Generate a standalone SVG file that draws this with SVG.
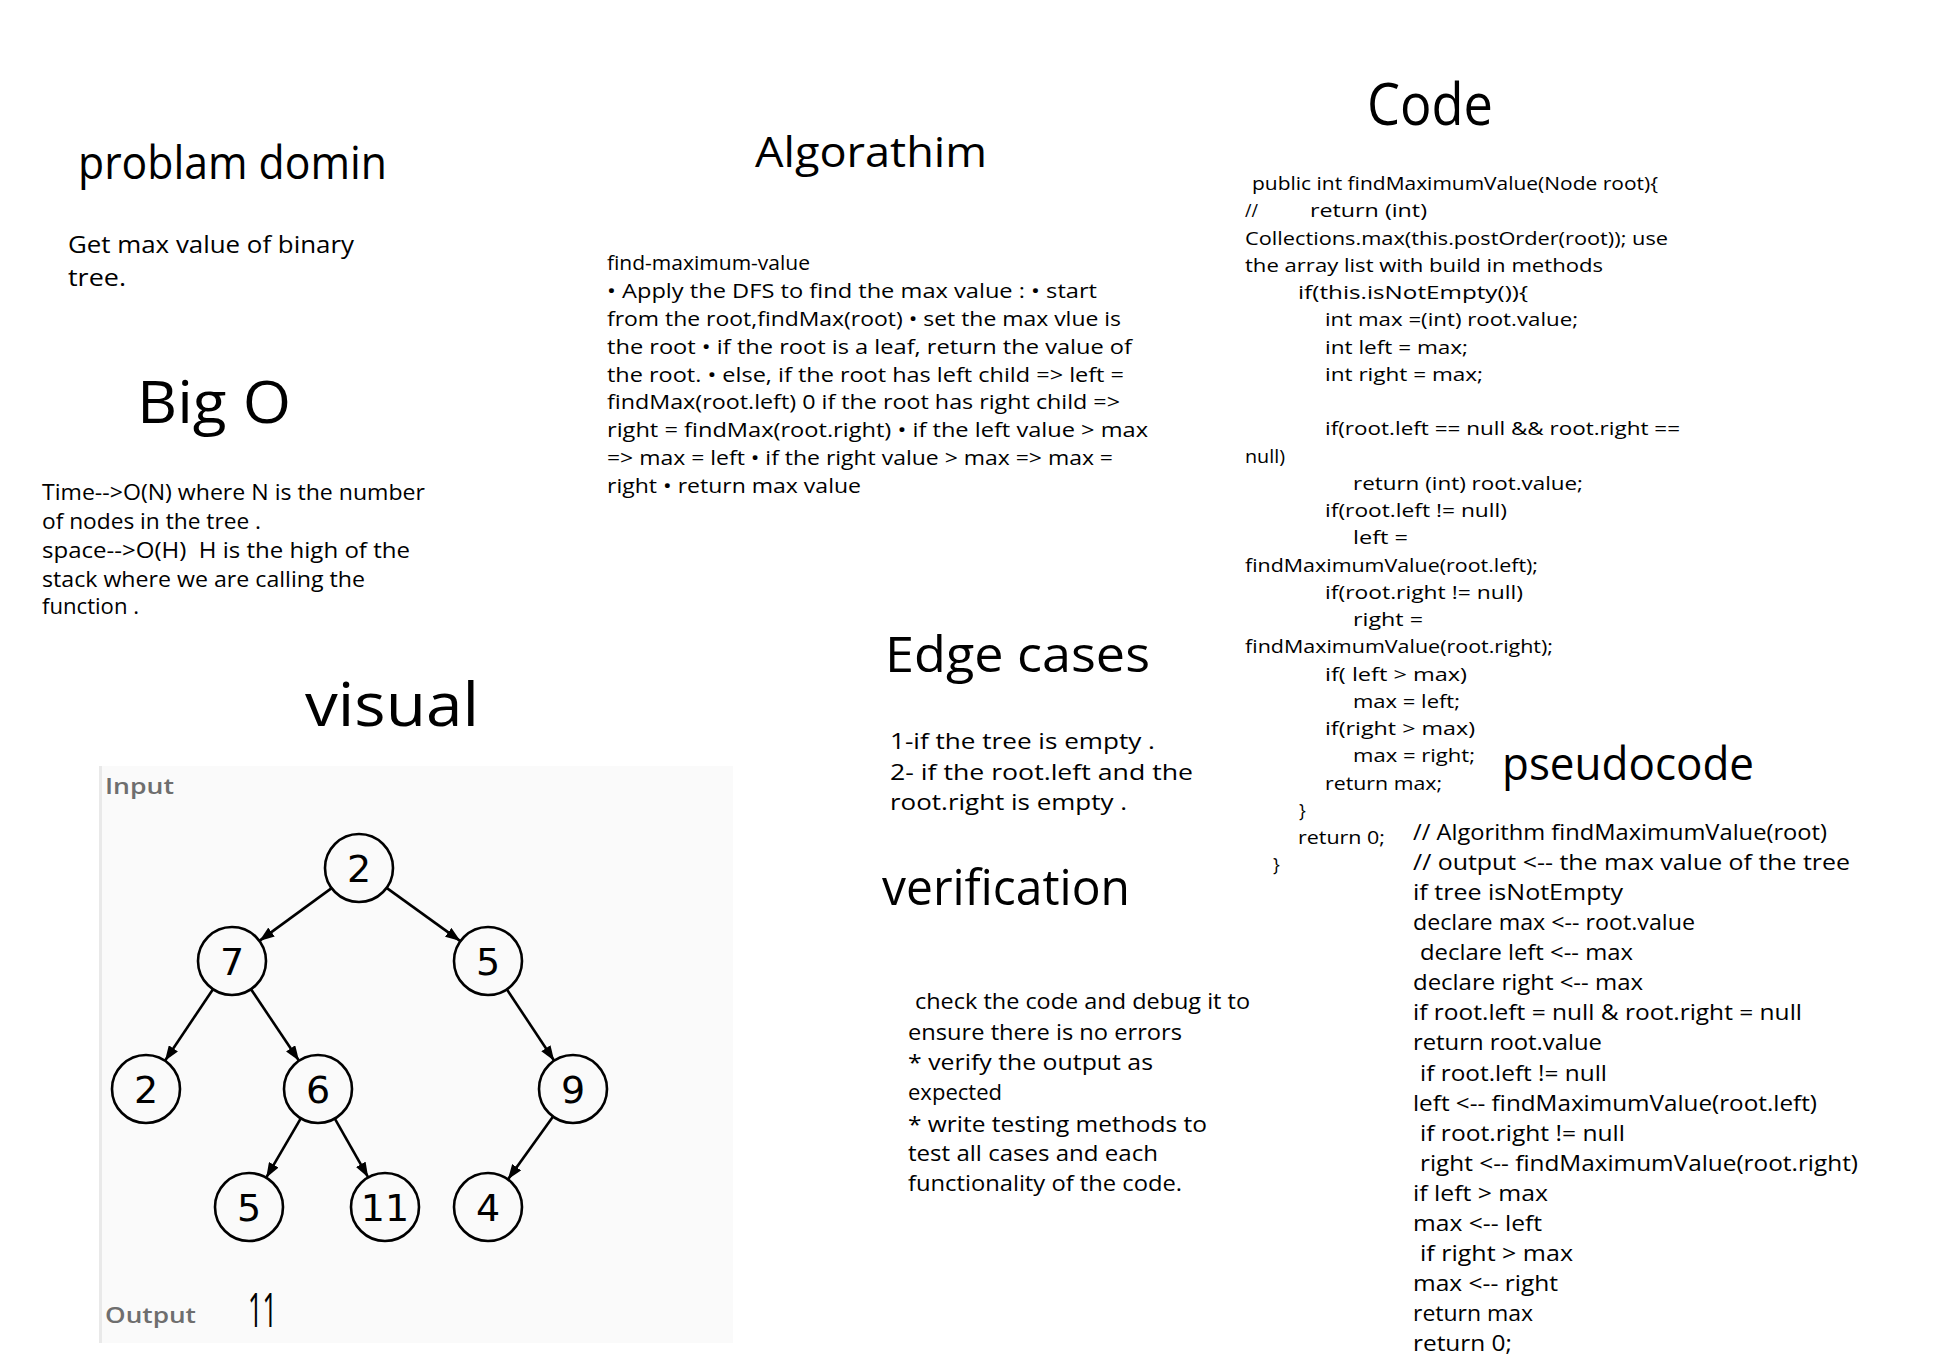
<svg xmlns="http://www.w3.org/2000/svg" width="1946" height="1371" viewBox="0 0 1946 1371">
<defs>
<style>
text{font-family:"Open Sans","Liberation Sans",sans-serif;fill:#000}
.h{font-size:46px}
.t{font-size:21px}
.c{font-size:18px}
.a{font-size:19.5px}
.p{font-size:22px}
.lbl{font-size:22px;font-weight:600;fill:#6e6e6e}
.num{font-family:"DejaVu Sans",sans-serif;font-size:38px;text-anchor:middle}
.node{fill:#fafafa;stroke:#000;stroke-width:2.6}
.edge{stroke:#000;stroke-width:2.6;fill:none;marker-end:url(#arr)}
</style>
<marker id="arr" markerUnits="userSpaceOnUse" markerWidth="15" markerHeight="11" refX="15" refY="5.5" orient="auto">
<path d="M0,0 L15,5.5 L0,11 z" fill="#000"/>
</marker>
</defs>
<rect width="1946" height="1371" fill="#fff"/>

<g id="problem-domain">
<text class="h" x="78" y="179" font-size="45" textLength="309" lengthAdjust="spacingAndGlyphs">problam domin</text>
<text x="68" y="253" font-size="24" textLength="286" lengthAdjust="spacingAndGlyphs">Get max value of binary</text>
<text x="68" y="286" font-size="24" textLength="58" lengthAdjust="spacingAndGlyphs">tree.</text>
</g>

<g id="big-o">
<text x="137" y="423" font-size="58" textLength="154" lengthAdjust="spacingAndGlyphs">Big O</text>
<text class="t" x="42" y="500" textLength="383" lengthAdjust="spacingAndGlyphs">Time--&gt;O(N) where N is the number</text>
<text class="t" x="42" y="529" textLength="219" lengthAdjust="spacingAndGlyphs">of nodes in the tree .</text>
<text class="t" x="42" y="558" textLength="368" lengthAdjust="spacingAndGlyphs" xml:space="preserve">space--&gt;O(H)  H is the high of the</text>
<text class="t" x="42" y="587" textLength="323" lengthAdjust="spacingAndGlyphs">stack where we are calling the</text>
<text class="t" x="42" y="614" textLength="97" lengthAdjust="spacingAndGlyphs">function .</text>
</g>

<g id="algorithm">
<text x="755" y="167" font-size="42" textLength="232" lengthAdjust="spacingAndGlyphs">Algorathim</text>
<text class="a" x="607" y="270" textLength="203" lengthAdjust="spacingAndGlyphs">find-maximum-value</text>
<text class="a" x="607" y="298" textLength="490" lengthAdjust="spacingAndGlyphs">• Apply the DFS to find the max value : • start</text>
<text class="a" x="607" y="326" textLength="514" lengthAdjust="spacingAndGlyphs">from the root,findMax(root) • set the max vlue is</text>
<text class="a" x="607" y="354" textLength="525" lengthAdjust="spacingAndGlyphs">the root • if the root is a leaf, return the value of</text>
<text class="a" x="607" y="382" textLength="517" lengthAdjust="spacingAndGlyphs">the root. • else, if the root has left child =&gt; left =</text>
<text class="a" x="607" y="409" textLength="513" lengthAdjust="spacingAndGlyphs">findMax(root.left) 0 if the root has right child =&gt;</text>
<text class="a" x="607" y="437" textLength="541" lengthAdjust="spacingAndGlyphs">right = findMax(root.right) • if the left value &gt; max</text>
<text class="a" x="607" y="465" textLength="506" lengthAdjust="spacingAndGlyphs">=&gt; max = left • if the right value &gt; max =&gt; max =</text>
<text class="a" x="607" y="493" textLength="254" lengthAdjust="spacingAndGlyphs">right • return max value</text>
</g>

<g id="code">
<text x="1367" y="125" font-size="58" textLength="126" lengthAdjust="spacingAndGlyphs">Code</text>
<text class="c" x="1252" y="190" textLength="406" lengthAdjust="spacingAndGlyphs">public int findMaximumValue(Node root){</text>
<text class="c" x="1245" y="217" textLength="13" lengthAdjust="spacingAndGlyphs">//</text>
<text class="c" x="1310" y="217" textLength="117" lengthAdjust="spacingAndGlyphs">return (int)</text>
<text class="c" x="1245" y="244.5" textLength="423" lengthAdjust="spacingAndGlyphs">Collections.max(this.postOrder(root)); use</text>
<text class="c" x="1245" y="271.8" textLength="358" lengthAdjust="spacingAndGlyphs">the array list with build in methods</text>
<text class="c" x="1298" y="299" textLength="230" lengthAdjust="spacingAndGlyphs">if(this.isNotEmpty()){</text>
<text class="c" x="1325" y="326.3" textLength="253" lengthAdjust="spacingAndGlyphs">int max =(int) root.value;</text>
<text class="c" x="1325" y="353.5" textLength="143" lengthAdjust="spacingAndGlyphs">int left = max;</text>
<text class="c" x="1325" y="380.8" textLength="158" lengthAdjust="spacingAndGlyphs">int right = max;</text>
<text class="c" x="1325" y="435.3" textLength="355" lengthAdjust="spacingAndGlyphs">if(root.left == null &amp;&amp; root.right ==</text>
<text class="c" x="1245" y="462.5" textLength="40" lengthAdjust="spacingAndGlyphs">null)</text>
<text class="c" x="1353" y="489.8" textLength="230" lengthAdjust="spacingAndGlyphs">return (int) root.value;</text>
<text class="c" x="1325" y="517" textLength="182" lengthAdjust="spacingAndGlyphs">if(root.left != null)</text>
<text class="c" x="1353" y="544.3" textLength="55" lengthAdjust="spacingAndGlyphs">left =</text>
<text class="c" x="1245" y="571.5" textLength="293" lengthAdjust="spacingAndGlyphs">findMaximumValue(root.left);</text>
<text class="c" x="1325" y="598.8" textLength="198" lengthAdjust="spacingAndGlyphs">if(root.right != null)</text>
<text class="c" x="1353" y="626" textLength="70" lengthAdjust="spacingAndGlyphs">right =</text>
<text class="c" x="1245" y="653.3" textLength="308" lengthAdjust="spacingAndGlyphs">findMaximumValue(root.right);</text>
<text class="c" x="1325" y="680.5" textLength="142" lengthAdjust="spacingAndGlyphs">if( left &gt; max)</text>
<text class="c" x="1353" y="707.8" textLength="107" lengthAdjust="spacingAndGlyphs">max = left;</text>
<text class="c" x="1325" y="735" textLength="150" lengthAdjust="spacingAndGlyphs">if(right &gt; max)</text>
<text class="c" x="1353" y="762.3" textLength="122" lengthAdjust="spacingAndGlyphs">max = right;</text>
<text class="c" x="1325" y="789.5" textLength="117" lengthAdjust="spacingAndGlyphs">return max;</text>
<text class="c" x="1299" y="816.8">}</text>
<text class="c" x="1298" y="844" textLength="87" lengthAdjust="spacingAndGlyphs">return 0;</text>
<text class="c" x="1273" y="871.3">}</text>
</g>

<g id="edge-cases">
<text x="885" y="672" font-size="50" textLength="265" lengthAdjust="spacingAndGlyphs">Edge cases</text>
<text class="t" x="890" y="749" textLength="265" lengthAdjust="spacingAndGlyphs">1-if the tree is empty .</text>
<text class="t" x="890" y="780" textLength="303" lengthAdjust="spacingAndGlyphs">2- if the root.left and the</text>
<text class="t" x="890" y="810" textLength="237" lengthAdjust="spacingAndGlyphs">root.right is empty .</text>
</g>

<g id="verification">
<text x="882" y="905" font-size="50" textLength="248" lengthAdjust="spacingAndGlyphs">verification</text>
<text class="t" x="915" y="1009" textLength="335" lengthAdjust="spacingAndGlyphs">check the code and debug it to</text>
<text class="t" x="908" y="1040" textLength="274" lengthAdjust="spacingAndGlyphs">ensure there is no errors</text>
<text class="t" x="908" y="1070" textLength="245" lengthAdjust="spacingAndGlyphs">* verify the output as</text>
<text class="t" x="908" y="1100" textLength="94" lengthAdjust="spacingAndGlyphs">expected</text>
<text class="t" x="908" y="1132" textLength="299" lengthAdjust="spacingAndGlyphs">* write testing methods to</text>
<text class="t" x="908" y="1161" textLength="250" lengthAdjust="spacingAndGlyphs">test all cases and each</text>
<text class="t" x="908" y="1191" textLength="274" lengthAdjust="spacingAndGlyphs">functionality of the code.</text>
</g>

<g id="pseudocode">
<text x="1502" y="780" font-size="46" textLength="252" lengthAdjust="spacingAndGlyphs">pseudocode</text>
<text class="p" x="1413" y="840" textLength="414" lengthAdjust="spacingAndGlyphs">// Algorithm findMaximumValue(root)</text>
<text class="p" x="1413" y="870" textLength="437" lengthAdjust="spacingAndGlyphs">// output &lt;-- the max value of the tree</text>
<text class="p" x="1413" y="900" textLength="210" lengthAdjust="spacingAndGlyphs">if tree isNotEmpty</text>
<text class="p" x="1413" y="930" textLength="282" lengthAdjust="spacingAndGlyphs">declare max &lt;-- root.value</text>
<text class="p" x="1420" y="960" textLength="213" lengthAdjust="spacingAndGlyphs">declare left &lt;-- max</text>
<text class="p" x="1413" y="990" textLength="230" lengthAdjust="spacingAndGlyphs">declare right &lt;-- max</text>
<text class="p" x="1413" y="1020" textLength="389" lengthAdjust="spacingAndGlyphs">if root.left = null &amp; root.right = null</text>
<text class="p" x="1413" y="1050" textLength="189" lengthAdjust="spacingAndGlyphs">return root.value</text>
<text class="p" x="1420" y="1081" textLength="187" lengthAdjust="spacingAndGlyphs">if root.left != null</text>
<text class="p" x="1413" y="1111" textLength="404" lengthAdjust="spacingAndGlyphs">left &lt;-- findMaximumValue(root.left)</text>
<text class="p" x="1420" y="1141" textLength="205" lengthAdjust="spacingAndGlyphs">if root.right != null</text>
<text class="p" x="1420" y="1171" textLength="438" lengthAdjust="spacingAndGlyphs">right &lt;-- findMaximumValue(root.right)</text>
<text class="p" x="1413" y="1201" textLength="135" lengthAdjust="spacingAndGlyphs">if left &gt; max</text>
<text class="p" x="1413" y="1231" textLength="129" lengthAdjust="spacingAndGlyphs">max &lt;-- left</text>
<text class="p" x="1420" y="1261" textLength="153" lengthAdjust="spacingAndGlyphs">if right &gt; max</text>
<text class="p" x="1413" y="1291" textLength="145" lengthAdjust="spacingAndGlyphs">max &lt;-- right</text>
<text class="p" x="1413" y="1321" textLength="120" lengthAdjust="spacingAndGlyphs">return max</text>
<text class="p" x="1413" y="1351" textLength="99" lengthAdjust="spacingAndGlyphs">return 0;</text>
</g>

<g id="visual">
<text x="305" y="726" font-size="60" textLength="174" lengthAdjust="spacingAndGlyphs">visual</text>
<rect x="99" y="766" width="634" height="577" fill="#fafafa"/>
<rect x="99" y="766" width="3" height="577" fill="#e9e9e9"/>
<text class="lbl" x="105" y="794" textLength="69" lengthAdjust="spacingAndGlyphs">Input</text>
<text class="lbl" x="105" y="1323" textLength="91" lengthAdjust="spacingAndGlyphs">Output</text>
<text x="248" y="1327" font-size="48" textLength="29" lengthAdjust="spacingAndGlyphs">11</text>
</g>

<g id="connectors">
<line class="edge" x1="331.6" y1="888.1" x2="259.4" y2="940.9"/>
<line class="edge" x1="386.6" y1="887.9" x2="460.4" y2="941.1"/>
<line class="edge" x1="213" y1="989.2" x2="165" y2="1060.8"/>
<line class="edge" x1="251" y1="989.2" x2="299" y2="1060.8"/>
<line class="edge" x1="506.8" y1="989.3" x2="554.2" y2="1060.7"/>
<line class="edge" x1="300.8" y1="1118.3" x2="266.2" y2="1177.7"/>
<line class="edge" x1="334.8" y1="1118.6" x2="368.2" y2="1177.4"/>
<line class="edge" x1="553.1" y1="1116.6" x2="507.9" y2="1179.4"/>
</g>

<g id="node-root-2"><circle class="node" cx="359" cy="868" r="34"/><text class="num" x="359" y="882">2</text></g>
<g id="node-7"><circle class="node" cx="232" cy="961" r="34"/><text class="num" x="232" y="975">7</text></g>
<g id="node-5a"><circle class="node" cx="488" cy="961" r="34"/><text class="num" x="488" y="975">5</text></g>
<g id="node-2b"><circle class="node" cx="146" cy="1089" r="34"/><text class="num" x="146" y="1103">2</text></g>
<g id="node-6"><circle class="node" cx="318" cy="1089" r="34"/><text class="num" x="318" y="1103">6</text></g>
<g id="node-9"><circle class="node" cx="573" cy="1089" r="34"/><text class="num" x="573" y="1103">9</text></g>
<g id="node-5b"><circle class="node" cx="249" cy="1207" r="34"/><text class="num" x="249" y="1221">5</text></g>
<g id="node-11"><circle class="node" cx="385" cy="1207" r="34"/><text class="num" x="385" y="1221">11</text></g>
<g id="node-4"><circle class="node" cx="488" cy="1207" r="34"/><text class="num" x="488" y="1221">4</text></g>
</svg>
